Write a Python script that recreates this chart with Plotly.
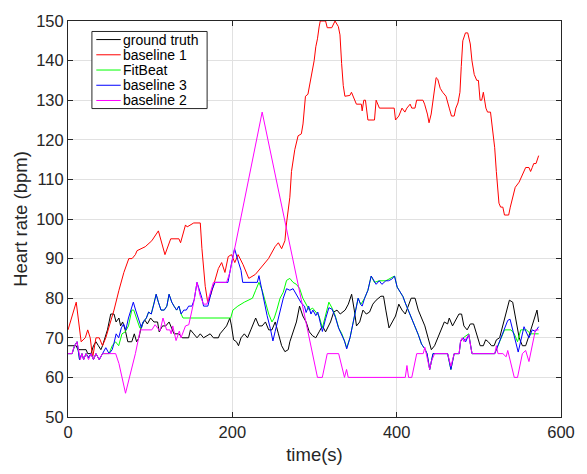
import plotly.graph_objects as go

# ---------------- data ----------------
gt_t = [0,10,12,22,24,28,31,34,37,40,42,45,48,50,52,56,58.5,62,64,66.5,69.6,72.8,77.6,80.7,83.5,86.3,89.4,93.4,96.6,100.5,104.5,109,111,115,119,123,127,129,135,139,146.8,149,153,157,161,165,173,177,183,185,189,193,197,199,201.5,205,207.5,210.6,214.6,218.5,222.5,224.5,228.4,232.4,236.3,240.3,244.3,248.2,252.2,256.1,260,264,268,270,274,278,281.8,285.8,289.8,293.7,297.7,301.6,305.6,309.6,313.5,317.5,319.5,323.4,327.4,331.3,337.3,341.2,345.2,348.4,351.1,355,359,363,367,371,375,380.8,384,386.8,390.7,394.7,398.6,402.6,406.5,410.5,414.5,417.6,422.4,426.3,430.3,434.3,438.2,442.2,446.1,450.1,454.1,458,462,464,468,472,475.8,479,481.8,485.7,489.7,493.6,497.6,501.6,505.5,508.3,511.5,515.4,518.6,521.4,525.3,529.3,533.2,537.2,541.2,545.1,549.1,553,557,561,565,568.9,570.8,572.8]
gt_hr = [68,68,67,67,66,66,68,69,68,67,68,70,72,74,76,76,74,75,73,74,72,69,69,71,69,70,73,74.5,73.5,75,74,74,71.5,73,73,74,72,71,71,70,70,72,71,70,71,70,71,70,70,71,72,73,75,73,69.5,69,68,70,71,70,72,73,75,73,73,74,72,72,74,71,68,66.5,67,69,71.5,74,78,75.5,74,71.5,70.5,70,71.5,73,71.5,73,74,76.5,77,76,77,78.5,81,77,73,74,77,76,76.5,78.5,79.5,80.5,80.5,77,72.5,74,75.5,78.5,77,76,78.5,80,80,77,75,73,70,67,68,70,72.5,74,73.5,75,73,74.5,76,76,73,72,73.5,73.5,71,68,68,69.5,69,68,68,69.5,70,73,76.5,79.5,79,74.5,70,68,68,70.5,73,76,77,74]

b1_t = [0,10,16,21,24,27,30,34,38,42,46,56,62,68,74,78,82,84,94,102,110,118,125,135,137,143,145,153,161,163,167,170,174,179,183,187,191,195,199,203,207,213,220,228,236,244,252,256,260,264,266,270,272,274,276,280,284,286,288,289,292,294,296,299.6,301.6,303.6,305.6,307,313.5,315.5,321,325,329,331,333,335,337,343,345,349,351,357,358,360,362,365,373,375,379,397,398.6,402.6,406.5,410,412.4,416.4,418.4,422.3,424.3,432,434,437.4,439.4,442,444,446,448,450,453,456,460,464,466.7,470,472,474.6,477,478.6,480.5,483.7,486.5,489.6,491.6,494.4,497.5,499.5,501.5,503.5,505.5,508.6,510.6,514.2,516.6,519.3,521.3,522.5,524.5,526.5,529.2,531.2,536.3,538.3,541,544.3,549,553,557,561,563,565,566.8,569.6,572.8]
b1_hr = [72,79,69,70,72,70,65,70,70,68,70,77,82,86.5,90,90,91,92,93,94.5,97,91,95,95,94,98.5,98,99,99,92.5,83,79,81,85,87.5,89,86.5,90.5,91,89,91,88.5,85,86,88,90,93,94,92.5,94.5,99,105.5,112,115,117.5,121,121.5,124,129,131,131.5,133.5,136,140,143.5,145.5,148.5,150,150,148.3,148.3,150,148.6,146.5,139.3,133.7,131,131.2,132,130,129,129,127.3,130,130,125,125,130,128,128,125,126,128,127,128,129,128,128,130,130,129,126.5,124.3,126.5,130,133,135.7,135.3,133,132,131,128,126,126,128,129.3,132,138.5,145,147,147,144.2,140,136.5,135,135,130,130,132,128,127,127,122.5,118,112,108,104,103,103,101,101,103,105,108,109.3,111,113,113,112,113,114,114,116]

fb_t = [0,5,8,11,14,17,19,22,25,28,31,34,38,42,50,53.8,57.8,61.7,65.7,69.6,73.6,77.6,80,83.5,87.4,89.4,91.4,95.4,98.1,101.3,104.5,107.3,110,113.2,117.1,120.3,123,126.3,129,132.2,135,137.7,140,198,200.7,206.7,214.6,224.5,228.4,232.4,236.3,240.3,244.3,248.2,251,254.1,258.1,262,266,270,273.9,277.9,281.8,285.8,289.8,293.7,297.7,301.6,305.6,309.6,313.5,317.5,321.4,325.4,329.4,333.3,336.5,339.2,343.2,347.2,351.1,353.1,356.3,361,365,369,372.9,378.8,386.8,397.4,400.6,404.6,407.7,410.5,414.5,418.4,422.4,426.3,430.3,434.3,437,440.2,444.2,462,466,470,476,477.8,481,487.7,491.7,519.4,523.3,527.3,531.3,539.2,543.1,547.1,551,558,563,572.8]
fb_hr = [66,66,68,69,64.5,66,64.5,66,65,66,64.5,66,64.5,66,66,68,69,68,71,71.5,73,77,77,75,72.5,72.5,74,75,76.5,76,78.5,81,79,77,77,78,81,79,78,77,78,76,75,75,77,78,79,80,82,84,82,79,76,74,75,77,80,81.5,84.5,85,84,83.5,82.5,80,78.5,77,77.5,76.5,75.5,72.5,75.5,79,77.5,75.5,72.5,71,69.2,67.5,70,74,77.6,80,78.4,80,82,85.6,84,84.4,84.4,85.6,82.8,81.6,80.4,78.8,76.8,75.2,72.8,70.8,68.4,67.2,66,62,66,66,62,66,66,69,70,71,66,66,68,70,72,72,71,69,72,72,71,71]

b3_t = [0,5,8,11,14,17,19,22,25,28,31,34,38,42,46,50,53.8,55.8,58.6,61.7,64.9,67.7,70.4,73.6,76.8,79.5,82.3,85.5,89.4,91.4,95.4,98.1,101.3,104.5,107.3,110,113.2,117.1,120.3,123,126.3,129,132.2,135,137.7,140.9,144,146.8,150.8,153.6,157,163,165,170.2,175,179,194.7,198.7,202.7,206.6,210.6,212.6,230.4,232.4,234.3,238.3,242.3,246.2,249.4,252.1,254.9,258.1,262,266,270,273.9,277,279.9,283.8,287.8,289.8,292.9,295.7,298,301.6,304,306.4,309.6,313.5,317.5,321.4,325.4,329.4,333.3,336.5,339.2,343.2,347.2,351.1,353.1,356.3,358,361,365,369,372.9,375,378.8,382,386.8,390,394,397.4,400.6,404.6,407.7,410.5,414.5,418.4,422.4,426.3,430.3,434.3,437,440.2,444.2,462,466,470,476,477.8,481,484,487.7,491.7,519.4,523.3,527.3,531.3,535.2,538,541.2,545.1,547.9,551,555,558.2,561,565,568.9,572.8]
b3_hr = [66,66,68,69,64.5,66,64.5,66,65,66,64.5,66,64.5,66,67.5,66,67,68.5,71,70,72.5,73.5,72,75,77,79,77,75,72.5,74,75,76.5,76,78.5,81,79,77,77,78,81,79,78,77,78,76,77,77,78,78,79.6,84,80,78,78,82,84,84,88.5,92.5,89.7,87,84,84,85.7,83.6,79.6,75.6,72.4,69.2,71.6,74,77.2,80,82.4,82,82.4,81.2,80.4,78.8,78,76.4,78,76,77,75.6,76.5,74.4,71.6,74.8,77.6,77.2,75.2,72.4,70.8,69.2,67.2,70,74,77.6,80,78.4,78,80,82,85.6,84,83.5,84.4,83.5,84.4,84.4,84.8,85.6,82.8,81.6,80.4,78.8,76.8,75.2,72.8,70.8,68.4,67.2,66,62,66,66,62,66,66,69.2,70,69,70.8,66,66,68,70,72.4,74.4,74.7,72,68.4,66.4,69.2,72.8,71.2,70,72,71.6,72.8]

b2_t = [0,5,7,11,15,17,19,22,25,28,31,34,38,42,58,62,70,82,88,102,106,112,115.6,120,124,125.5,127.5,131.5,135.5,137.5,143,147,153,157,161,165,169,173,177,193,197,236.3,303.6,309.5,315.5,329.4,333.3,336.5,339,341,410.5,412.5,414.5,418.4,424.4,432.3,434.3,436.2,440.2,442.2,446.1,462,466,470,476,477.8,479.8,482,485,487.7,491.7,519.4,521.4,523.3,529.3,533.2,535.2,537.2,543.1,547.1,553,557,561,568.9,572.8]
b2_hr = [66,66,67.5,69,64.5,66,64.5,66,64.5,66,64.5,66,64.5,66,66,63.5,56,66,72,72,73.3,71.7,75,72,72,71,73,69.3,71.7,70,73,73.3,79,84,80.5,78.5,78.5,81.3,84,84,86.5,127,60,60,66,66,63,60,62,60,60,63,60,60,66,66,67.6,66,62,64,66,66,62.8,66,66,69.2,70,69,70,70.8,66,66,68,66,66,65.2,66.8,65.2,60,60,66,66.8,64,72,72]

series_names = ["ground truth", "baseline 1", "FitBeat", "baseline 3", "baseline 2"]
series_colors = ["#000000", "#ff0000", "#00ff00", "#0000ff", "#ff00ff"]
series_t = [gt_t, b1_t, fb_t, b3_t, b2_t]
series_hr = [gt_hr, b1_hr, fb_hr, b3_hr, b2_hr]

x_ticks = [0, 200, 400, 600]
y_ticks = [50, 60, 70, 80, 90, 100, 110, 120, 130, 140, 150]

# ---------------- figure ----------------
W, H = 587, 474
ML, MR, MT, MB = 68, 14, 14, 44
FONT = "Liberation Sans, Arial, Helvetica, sans-serif"
AX = "#262626"

fig = go.Figure()
for name, col, t, hr in zip(series_names, series_colors, series_t, series_hr):
    fig.add_trace(go.Scatter(x=t, y=hr, mode="lines", name=name,
                             line=dict(color=col, width=1), showlegend=False))

axis_common = dict(showline=True, linecolor=AX, linewidth=1, mirror="ticks",
                   ticks="inside", ticklen=5, tickcolor=AX, tickwidth=1,
                   showgrid=True, gridcolor="#e1e1e1", gridwidth=1, zeroline=False,
                   tickfont=dict(family=FONT, size=16.5, color=AX))

fig.update_xaxes(range=[0, 600], tickvals=x_ticks, ticktext=[str(v) for v in x_ticks],
                 title=dict(text="time(s)", font=dict(family=FONT, size=18.5, color=AX), standoff=8),
                 **axis_common)
fig.update_yaxes(range=[50, 150], tickvals=y_ticks, ticktext=[str(v) for v in y_ticks],
                 title=dict(text="Heart rate (bpm)", font=dict(family=FONT, size=18.5, color=AX), standoff=3),
                 **axis_common)

# ---------------- custom legend (MATLAB style) ----------------
pw, ph = W - ML - MR, H - MT - MB
def px2x(px):
    return (px - ML) / pw
def py2y(py):
    return (H - MB - py) / ph

row0, rowgap = 33.5, 16
box = dict(x0=92.5, x1=210.5, y0=25, y1=106)
fig.add_shape(type="rect", xref="paper", yref="paper",
              x0=px2x(box["x0"]), x1=px2x(box["x1"]), y0=py2y(box["y1"]), y1=py2y(box["y0"]),
              line=dict(color=AX, width=1), fillcolor="white", layer="above")
for i, (name, col) in enumerate(zip(series_names, series_colors)):
    yy = py2y(row0 + i * rowgap)
    fig.add_shape(type="line", xref="paper", yref="paper",
                  x0=px2x(97), x1=px2x(122), y0=yy, y1=yy,
                  line=dict(color=col, width=1), layer="above")
    fig.add_annotation(xref="paper", yref="paper", x=px2x(123.5), y=yy,
                       text=name, showarrow=False, xanchor="left", yanchor="middle",
                       borderpad=0,
                       font=dict(family=FONT, size=14, color="#000000"))

fig.update_layout(width=W, height=H, margin=dict(l=ML, r=MR, t=MT, b=MB),
                  plot_bgcolor="white", paper_bgcolor="white", showlegend=False)

fig.write_html("out.html")
